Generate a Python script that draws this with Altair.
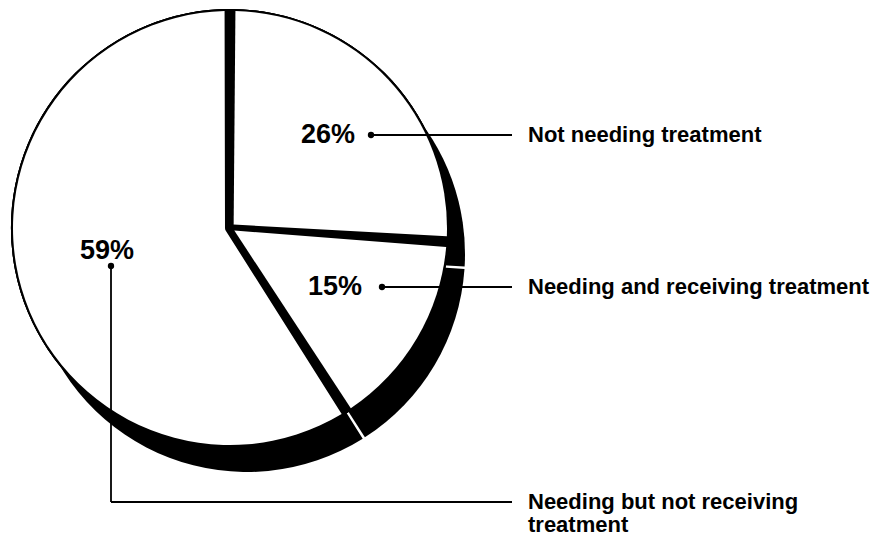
import math
import altair as alt
import pandas as pd

# ---- data ----
categories = ["Not needing treatment", "Needing and receiving treatment",
              "Needing but not receiving treatment"]
shares = [26, 15, 59]
pct_text = ["26%", "15%", "59%"]
label_lines = [["Not needing treatment"],
               ["Needing and receiving treatment"],
               ["Needing but not receiving", "treatment"]]

# ---- layout (page pixel coordinates) ----
W, H, M = 863, 531, 8
CX, CY = 230, 228           # pie centre
R = 217                     # pie radius
SHADOW_DX, SHADOW_DY = 17, 26
PCT_XY = [(328, 135), (335, 287), (107, 251)]
DOT_XY = [(371, 135), (382, 287), (111, 266)]
LINE_END_X = 512
TEXT_X = 528
TEXT_Y = [135, 287, 502]
LINE_GAP = 23

pie = pd.DataFrame({"category": categories, "share": shares, "order": list(range(len(shares)))})

theta = alt.Theta("share:Q", stack=True)
order = alt.Order("order:Q")

shadow = alt.Chart(pie).mark_arc(radius=R + 1, padAngle=0.012, color="black").encode(
    theta=theta, order=order,
    x=alt.value(CX - M + SHADOW_DX), y=alt.value(CY - M + SHADOW_DY))

# solid black disc under the slices (gives the outline and the thick separators)
rim = alt.Chart(pie).mark_arc(radius=R + 2, color="black").encode(
    theta=alt.value(0), theta2=alt.value(2 * math.pi),
    x=alt.value(CX - M), y=alt.value(CY - M))

faces = alt.Chart(pie).mark_arc(radius=R, innerRadius=5, padAngle=0.05, color="white").encode(
    theta=theta, order=order, x=alt.value(CX - M), y=alt.value(CY - M))

xs = alt.Scale(domain=[M, W + M], nice=False, zero=False)
ys = alt.Scale(domain=[M, H + M], nice=False, zero=False, reverse=True)

# leader segments
segs = []
for i, (dx, dy) in enumerate(DOT_XY):
    if dy == TEXT_Y[i]:
        segs.append((dx, dy, LINE_END_X, dy))
    else:
        segs.append((dx, dy, dx, TEXT_Y[i]))
        segs.append((dx, TEXT_Y[i], LINE_END_X, TEXT_Y[i]))
seg_df = pd.DataFrame(segs, columns=["x", "y", "x2", "y2"])

rules = alt.Chart(seg_df).mark_rule(color="black", strokeWidth=1.8).encode(
    x=alt.X("x:Q", scale=xs, axis=None), y=alt.Y("y:Q", scale=ys, axis=None),
    x2="x2:Q", y2="y2:Q")

dot_df = pd.DataFrame({"x": [d[0] for d in DOT_XY], "y": [d[1] for d in DOT_XY]})
dots = alt.Chart(dot_df).mark_circle(color="black", size=40, opacity=1).encode(
    x=alt.X("x:Q", scale=xs, axis=None), y=alt.Y("y:Q", scale=ys, axis=None))

pct_df = pd.DataFrame({"x": [p[0] for p in PCT_XY], "y": [p[1] for p in PCT_XY], "t": pct_text})
pct = alt.Chart(pct_df).mark_text(font="Liberation Sans", fontSize=27, fontWeight="bold",
                                  align="center", baseline="middle", color="black").encode(
    x=alt.X("x:Q", scale=xs, axis=None), y=alt.Y("y:Q", scale=ys, axis=None), text="t:N")

rows = []
for i, lines in enumerate(label_lines):
    for j, ln in enumerate(lines):
        rows.append((TEXT_X, TEXT_Y[i] + j * LINE_GAP, ln))
lab_df = pd.DataFrame(rows, columns=["x", "y", "t"])
labs = alt.Chart(lab_df).mark_text(font="Liberation Sans", fontSize=22, fontWeight="bold",
                                   align="left", baseline="middle", color="black").encode(
    x=alt.X("x:Q", scale=xs, axis=None), y=alt.Y("y:Q", scale=ys, axis=None), text="t:N")

chart = alt.layer(shadow, rim, faces, rules, dots, pct, labs).properties(
    width=W, height=H, autosize=alt.AutoSizeParams(type="none"), padding=0,
    background="white"
).configure_view(stroke=None)

chart.save("out.html", embed_options={"renderer": "svg", "actions": False})
